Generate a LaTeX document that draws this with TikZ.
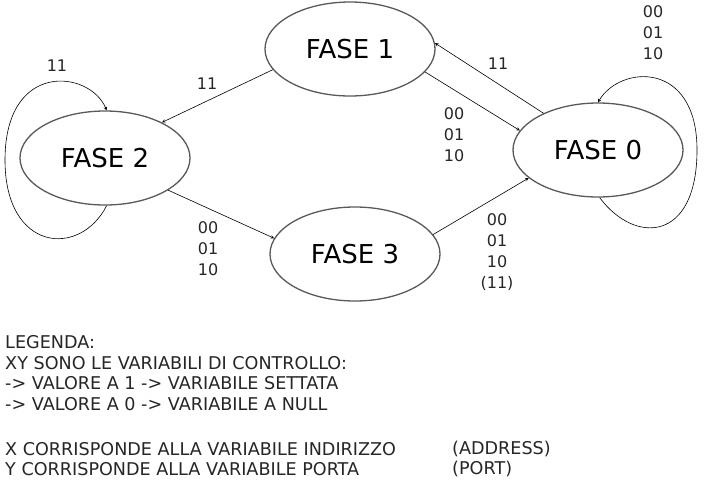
\documentclass[tikz,border=0pt]{standalone}
\usepackage{fontspec}
\setmainfont{DejaVu Sans}
\usepackage{tikz}
\usetikzlibrary{shapes.geometric}

\tikzset{
  fase/.style={ellipse,draw=black!65,line width=1.3pt,minimum width=170pt,minimum height=94pt,inner sep=0pt,font=\fontsize{26}{30}\selectfont},
  cond/.style={align=center,font=\fontsize{16}{21}\selectfont,text=black!85},
  trans/.style={->,>=stealth,line width=0.6pt},
  leg/.style={anchor=west,inner sep=0pt,font=\fontsize{17.6}{20.7}\selectfont,text=black!85}
}

\begin{document}
\begin{tikzpicture}[x=1pt,y=-1pt]
      \useasboundingbox (0,0) rectangle (708,499);
      \node[fase] (f1) at (350,49) {FASE 1};
      \node[fase] (f2) at (105,158) {FASE 2};
      \node[fase] (f3) at (355,254) {FASE 3};
      \node[fase] (f0) at (598,150) {FASE 0};
      % transizioni
      \draw[trans] (f1.195) -- (f2.32);
      \draw[trans] (f1.-17) -- (f0.166);
      \draw[trans] (f0.146) -- (f1.4);
      \draw[trans] (f2.-27) -- (f3.169);
      \draw[trans] (f3.14) -- (f0.202);
      \draw[trans] (f2.-88) .. controls (80,258) and (5,252) .. (5,160) .. controls (5,60) and (90,70) .. (f2.88);
      \draw[trans] (f0.-88) .. controls (635,245) and (697,242) .. (697,150) .. controls (697,60) and (620,65) .. (f0.north);
      % condizioni
      \node[cond] (c22) at (57,66) {11};
      \node[cond] (c12) at (207,84) {11};
      \node[cond] (c10) at (454,135) {00\\01\\10};
      \node[cond] (c01) at (498,64) {11};
      \node[cond] (c00) at (653,33) {00\\01\\10};
      \node[cond] (c23) at (208,249) {00\\01\\10};
      \node[cond] (c30) at (497,252) {00\\01\\10\\(11)};
      % legenda
      \node[leg,align=left] (leg) at (5,373) {LEGENDA:\\XY SONO LE VARIABILI DI CONTROLLO:\\-> VALORE A 1 -> VARIABILE SETTATA\\-> VALORE A 0 -> VARIABILE A NULL};
      \node[leg] (vx) at (5,449) {X CORRISPONDE ALLA VARIABILE INDIRIZZO};
      \node[leg] (vy) at (5,469) {Y CORRISPONDE ALLA VARIABILE PORTA};
      \node[leg] (ax) at (452,449) {(ADDRESS)};
      \node[leg] (ay) at (452,469) {(PORT)};
\end{tikzpicture}
\end{document}
